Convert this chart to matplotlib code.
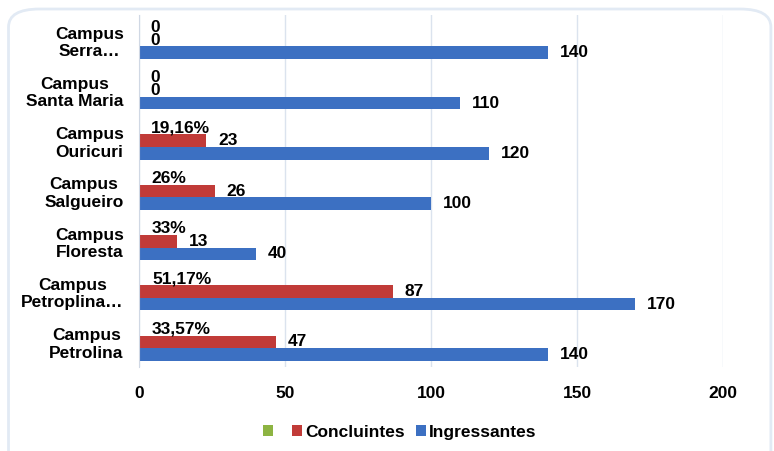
import numpy as np
import matplotlib.pyplot as plt
from matplotlib.patches import FancyBboxPatch

plt.rcParams['font.family'] = ['Liberation Sans', 'DejaVu Sans']
plt.rcParams['font.weight'] = 'bold'

campus = ['Campus\nPetrolina', 'Campus\nPetroplina…', 'Campus\nFloresta', 'Campus\nSalgueiro',
          'Campus\nOuricuri', 'Campus\nSanta Maria', 'Campus\nSerra…']
ingressantes = [140, 170, 40, 100, 120, 110, 140]
concluintes = [47, 87, 13, 26, 23, 0, 0]
percent = [0.3357, 0.5117, 0.33, 0.26, 0.1916, 0, 0]
percent_lbl = ['33,57%', '51,17%', '33%', '26%', '19,16%', '0', '0']

fig = plt.figure(figsize=(7.74, 4.51), dpi=100)
frame = FancyBboxPatch((0.011, -0.05), 0.985, 1.03, boxstyle='round,pad=0,rounding_size=0.04',
                       transform=fig.transFigure, fc='white', ec='#e2eaf4', lw=2, zorder=-10)
fig.patches.append(frame)
ax = fig.add_axes([139/774, 1-367/451, (723-139)/774, (367-15)/451])
ax.set_facecolor('none')

y = np.arange(len(campus))
h = 0.25
b1 = ax.barh(y - h, ingressantes, h, color='#3c70c2', label='Ingressantes')
b2 = ax.barh(y, concluintes, h, color='#c13b38', label='Concluintes')
b3 = ax.barh(y + h, percent, h, color='#8db442', label=' ')

for bars, labels in [(b1, ingressantes), (b2, concluintes), (b3, percent_lbl)]:
    for bar, lab in zip(bars, labels):
        ax.annotate(str(lab), (bar.get_width(), bar.get_y() + bar.get_height()/2),
                    xytext=(8.5, 0), textcoords='offset points', va='center', ha='left',
                    fontsize=12.5, fontweight='bold')

ax.set_xlim(0, 200)
ax.set_ylim(-0.5, len(campus) - 0.5)
ax.set_xticks([0, 50, 100, 150, 200])
ax.set_yticks(y)
ax.set_yticklabels(campus, multialignment='center', fontsize=12.5)
ax.tick_params(axis='x', labelsize=12.5, length=0, pad=14)
ax.tick_params(axis='y', length=0, pad=11)
ax.grid(axis='x', color='#dbe3ee', lw=1)
ax.set_axisbelow(True)
for s in ['top', 'right', 'bottom']:
    ax.spines[s].set_visible(False)
ax.spines['left'].set_color('#d0d8e4')

handles = [b3, b2, b1]
ax.legend(handles, [' ', 'Concluintes', 'Ingressantes'], loc='center', bbox_to_anchor=(0.447, -0.185),
          ncol=3, frameon=False, handlelength=0.55, handleheight=0.55, handletextpad=0.2,
          columnspacing=0.65, prop={'size': 12.5, 'weight': 'bold'})

fig.savefig('out.png', dpi=100)
